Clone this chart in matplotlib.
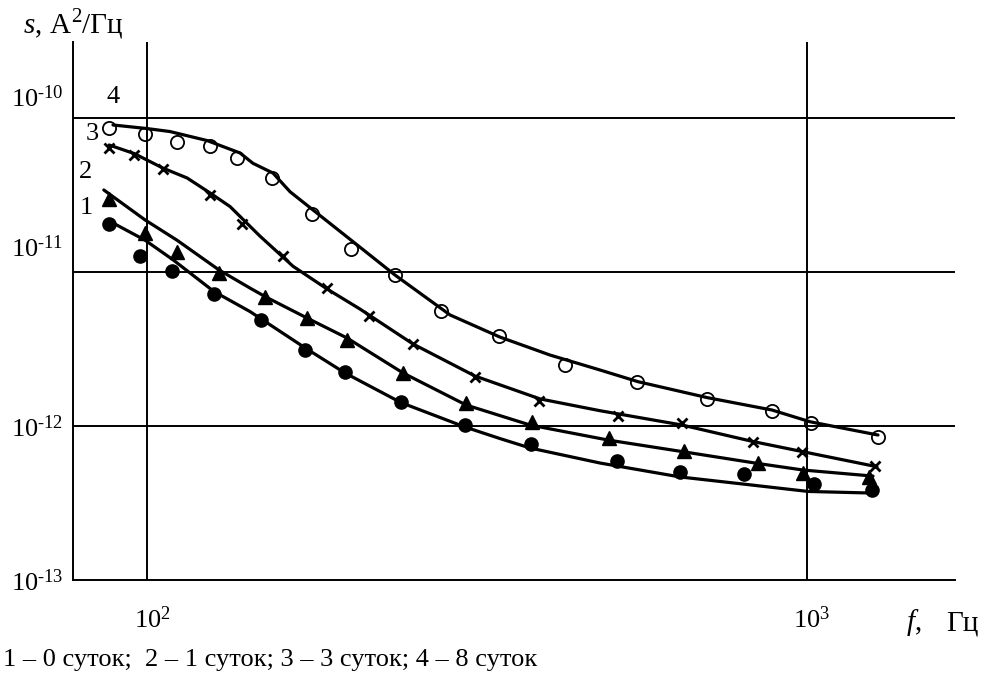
import matplotlib
matplotlib.use("Agg")
import matplotlib.pyplot as plt
import matplotlib.transforms as mtransforms
from matplotlib.ticker import NullLocator

plt.rcParams['font.family'] = ['Liberation Serif', 'DejaVu Serif']
plt.rcParams['mathtext.fontset'] = 'custom'
plt.rcParams['mathtext.rm'] = 'Liberation Serif'
plt.rcParams['mathtext.it'] = 'Liberation Serif:italic'

# measured spectral density points, s (A^2/Hz) vs f (Hz)
f1 = [87.6, 97.6, 109.1, 126.3, 148.6, 173.8, 199.5, 242.5, 303.3, 381.8, 515.4, 642.1, 802.6, 1024.7, 1254.7]
s1 = [2.05e-11, 1.27e-11, 1.015e-11, 7.20e-12, 4.88e-12, 3.12e-12, 2.24e-12, 1.43e-12, 1.015e-12, 7.64e-13,
      5.93e-13, 5.03e-13, 4.88e-13, 4.20e-13, 3.84e-13]

f2 = [87.6, 99.3, 111.0, 128.6, 151.0, 175.0, 200.9, 244.3, 304.3, 383.1, 501.2, 651.1, 843.0, 986.0, 1241.6]
s2 = [2.98e-11, 1.79e-11, 1.35e-11, 9.85e-12, 6.88e-12, 5.03e-12, 3.62e-12, 2.21e-12, 1.41e-12, 1.06e-12,
      8.36e-13, 6.88e-13, 5.75e-13, 4.95e-13, 4.67e-13]

f3 = [87.6, 95.6, 105.7, 124.6, 139.3, 160.7, 187.4, 216.9, 252.9, 314.1, 392.6, 517.2, 646.6, 828.3, 982.7, 1267.7]
s3 = [6.39e-11, 5.75e-11, 4.67e-11, 3.16e-11, 2.05e-11, 1.27e-11, 7.87e-12, 5.18e-12, 3.41e-12, 2.08e-12,
      1.45e-12, 1.16e-12, 1.05e-12, 7.87e-13, 6.78e-13, 5.50e-13]

f4 = [87.6, 99.3, 111.0, 124.6, 136.9, 154.6, 177.8, 203.8, 237.5, 279.0, 341.6, 429.9, 552.6, 705.5, 885.1,
      1014.0, 1281.0]
s4 = [8.57e-11, 7.87e-11, 6.99e-11, 6.58e-11, 5.50e-11, 4.08e-11, 2.38e-11, 1.42e-11, 9.56e-12, 5.58e-12,
      3.84e-12, 2.49e-12, 1.93e-12, 1.50e-12, 1.25e-12, 1.05e-12, 8.48e-13]

# approximating curves
cf1 = [87.9, 99.3, 109.5, 126.3, 143.2, 174.1, 199.5, 242.5, 303.3, 342.6, 380.5, 485.8, 642.1, 799.9, 1003.5,
       1254.7]
cs1 = [2.13e-11, 1.61e-11, 1.20e-11, 7.47e-12, 5.54e-12, 3.19e-12, 2.21e-12, 1.42e-12, 9.85e-13, 8.29e-13,
       7.20e-13, 5.75e-13, 4.67e-13, 4.20e-13, 3.76e-13, 3.67e-13]

cf2 = [86.0, 99.3, 111.0, 128.6, 143.2, 151.4, 174.7, 200.9, 244.3, 304.3, 380.5, 499.4, 648.8, 843.0, 986.0,
       1258.9]
cs2 = [3.41e-11, 2.18e-11, 1.61e-11, 1.03e-11, 7.87e-12, 6.88e-12, 5.03e-12, 3.73e-12, 2.21e-12, 1.37e-12,
       1.015e-12, 8.11e-13, 6.81e-13, 5.71e-13, 5.18e-13, 4.73e-13]

cf3 = [87.6, 95.6, 105.7, 115.0, 124.6, 133.6, 148.3, 166.4, 187.4, 210.2, 252.9, 314.1, 393.9, 485.8, 646.6,
       828.3, 982.7, 1276.6]
cs3 = [6.68e-11, 5.88e-11, 4.73e-11, 4.08e-11, 3.26e-11, 2.66e-11, 1.71e-11, 1.09e-11, 7.76e-12, 5.75e-12,
       3.41e-12, 2.11e-12, 1.50e-12, 1.257e-12, 1.015e-12, 7.93e-13, 6.83e-13, 5.44e-13]

cf4 = [88.8, 100.0, 108.3, 123.3, 138.3, 144.7, 155.2, 164.7, 178.4, 210.2, 237.5, 287.9, 342.6, 407.9, 485.8,
       554.6, 705.5, 885.1, 1010.5, 1281.0]
cs4 = [9.01e-11, 8.54e-11, 8.17e-11, 7.14e-11, 5.93e-11, 5.08e-11, 4.39e-11, 3.32e-11, 2.53e-11, 1.45e-11,
       9.56e-12, 5.26e-12, 3.78e-12, 2.89e-12, 2.31e-12, 1.94e-12, 1.53e-12, 1.27e-12, 1.066e-12, 8.74e-13]

x_ticks = [1e2, 1e3]
x_tick_labels = [r'$\mathregular{10^{2}}$', r'$\mathregular{10^{3}}$']
y_ticks = [1e-13, 1e-12, 1e-11, 1e-10]
y_tick_labels = [r'$\mathregular{10^{\text{-}13}}$', r'$\mathregular{10^{\text{-}12}}$',
                 r'$\mathregular{10^{\text{-}11}}$', r'$\mathregular{10^{\text{-}10}}$']
curve_numbers = ['1', '2', '3', '4']
caption = '1 – 0 суток;  2 – 1 суток; 3 – 3 суток; 4 – 8 суток'

FS = 19
FS_AX = 21
W, H = 984, 678

fig = plt.figure(figsize=(9.84, 6.78), dpi=100)
ax = fig.add_axes([0.0742, 0.1445, 0.8963, 0.7935])
ax.set_xscale('log')
ax.set_yscale('log')
ax.set_xlim(77.24, 1675.6)
ax.set_ylim(1e-13, 3.114e-10)

lw_grid = 1.4
for y in [1e-12, 1e-11, 1e-10]:
    ax.axhline(y, color='black', lw=lw_grid, zorder=1)
for x in x_ticks:
    ax.axvline(x, color='black', lw=lw_grid, zorder=1)

for cf, cs in [(cf1, cs1), (cf2, cs2), (cf3, cs3), (cf4, cs4)]:
    ax.plot(cf, cs, color='black', lw=2.3, solid_joinstyle='round', solid_capstyle='round', zorder=2)

ax.plot(f1, s1, ls='none', marker='o', ms=9.5, color='black', zorder=3)
ax.plot(f2, s2, ls='none', marker='^', ms=9.5, color='black', zorder=3)
ax.plot(f3, s3, ls='none', marker='x', ms=6.5, mew=2.0, color='black', zorder=3)
ax.plot(f4, s4, ls='none', marker='o', ms=9.5, mfc='none', mec='black', mew=1.3, zorder=3)

for side in ['top', 'right']:
    ax.spines[side].set_visible(False)
for side in ['left', 'bottom']:
    ax.spines[side].set_linewidth(1.4)

ax.xaxis.set_minor_locator(NullLocator())
ax.yaxis.set_minor_locator(NullLocator())
ax.set_xticks(x_ticks)
ax.set_xticklabels(x_tick_labels, fontsize=FS)
ax.set_yticks(y_ticks)
ax.set_yticklabels(y_tick_labels, fontsize=FS)
ax.tick_params(axis='x', length=0, pad=19)
ax.tick_params(axis='y', length=0, pad=7)

# x labels: the mantissa is centred on the grid line
for lbl in ax.get_xticklabels():
    lbl.set_transform(lbl.get_transform() + mtransforms.ScaledTranslation(5 / 100, 0, fig.dpi_scale_trans))

# the two upper decade labels sit above their grid lines
ylabels = ax.get_yticklabels()
for lbl, dy in zip(ylabels[2:], [26, 22]):
    lbl.set_transform(lbl.get_transform() + mtransforms.ScaledTranslation(0, dy / 100, fig.dpi_scale_trans))

# curve numbers
num_pos = [(86, 208), (85.5, 172), (92.5, 134), (113, 97)]
for txt, (px, py) in zip(curve_numbers, num_pos):
    fig.text(px / W, 1 - py / H, txt, fontsize=FS, ha='center', va='center')

# axis titles
fig.text(23 / W, 1 - 33 / H, r'$\mathit{s}$,', fontsize=FS_AX, ha='left', va='baseline')
fig.text(50 / W, 1 - 33 / H, 'А', fontsize=FS_AX, ha='left', va='baseline')
fig.text(71 / W, 1 - 22 / H, '2', fontsize=15, ha='left', va='baseline')
fig.text(82 / W, 1 - 33 / H, '/Гц', fontsize=FS_AX, ha='left', va='baseline')

fig.text(906 / W, 1 - 630 / H, r'$\mathit{f}$,', fontsize=FS_AX, ha='left', va='baseline')
fig.text(946 / W, 1 - 630 / H, 'Гц', fontsize=FS_AX, ha='left', va='baseline')

fig.text(3 / W, 1 - 666 / H, caption, fontsize=FS, ha='left', va='baseline')

fig.savefig('out.png', dpi=100)
